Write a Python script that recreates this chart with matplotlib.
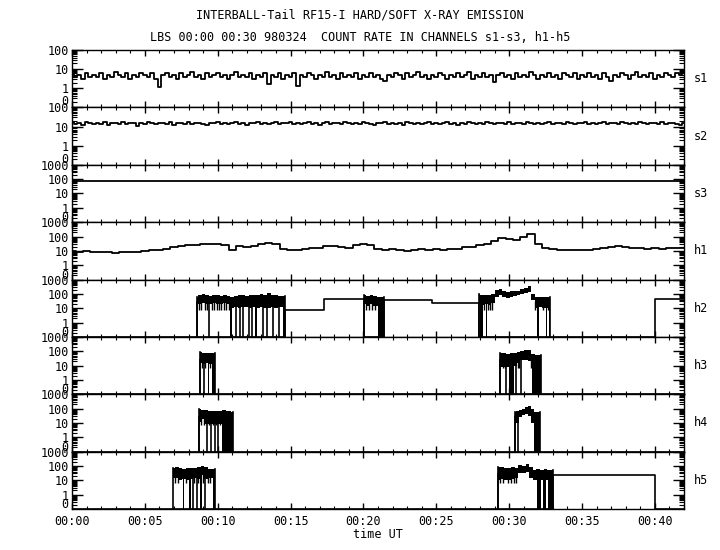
import numpy as np
import matplotlib
matplotlib.use("Agg")
import matplotlib.pyplot as plt
from matplotlib.ticker import MultipleLocator, FixedLocator, FuncFormatter, LogLocator, NullFormatter
from matplotlib.transforms import blended_transform_factory

plt.rcParams["font.family"] = ["DejaVu Sans Mono"]

# s1, s2 sampled every 15 s, s3 and h1 every 30 s, 00:00 .. 00:42 (counts)
s1 = [7, 4, 5, 3, 6, 4, 5, 4, 6, 3, 5, 4, 7, 5, 4, 6, 3, 5, 4, 6,
      5, 4, 6, 3, 1.2, 5, 6, 4, 5, 3, 6, 4, 5, 7, 4, 5, 3, 6, 4, 5,
      6, 4, 5, 3, 5, 7, 4, 5, 4, 6, 3, 5, 4, 6, 1.6, 5, 4, 6, 3, 5,
      4, 6, 1.4, 5, 4, 6, 5, 3, 5, 4, 7, 4, 5, 3, 6, 4, 5, 4, 6, 3,
      5, 4, 6, 4, 5, 3, 2.5, 5, 4, 6, 5, 3, 6, 4, 5, 7, 4, 5, 3, 5,
      4, 6, 5, 3, 5, 4, 6, 4, 5, 7, 3, 5, 4, 6, 4, 5, 2.2, 5, 6, 4,
      5, 3, 6, 4, 5, 4, 7, 5, 3, 5, 4, 6, 4, 5, 3, 6, 5, 4, 6, 3,
      5, 4, 6, 4, 5, 3, 6, 4, 2.3, 5, 4, 6, 5, 3, 5, 7, 4, 5, 4, 6,
      3, 5, 4, 6, 5, 4, 6, 5, 6]
s2 = [18, 14, 16, 12, 17, 15, 13, 16, 14, 17, 12, 15, 16, 14, 18, 13, 15, 16, 11, 15,
      14, 17, 15, 13, 16, 15, 14, 17, 12, 16, 15, 14, 18, 13, 15, 16, 14, 12, 16, 15,
      17, 14, 15, 13, 16, 17, 14, 15, 12, 16, 15, 17, 13, 16, 14, 15, 17, 13, 16, 15,
      18, 14, 16, 13, 15, 17, 14, 16, 12, 15, 17, 14, 16, 15, 13, 17, 15, 14, 16, 13,
      17, 15, 14, 12, 16, 15, 17, 13, 16, 14, 15, 12, 17, 15, 14, 16, 13, 15, 17, 14,
      16, 13, 15, 17, 14, 16, 12, 15, 14, 17, 15, 13, 16, 14, 17, 15, 13, 16, 15, 14,
      17, 13, 15, 16, 14, 18, 15, 13, 16, 14, 15, 17, 13, 16, 15, 14, 17, 15, 13, 16,
      15, 17, 14, 16, 13, 15, 18, 14, 16, 15, 13, 17, 15, 14, 16, 13, 17, 15, 14, 16,
      15, 13, 17, 14, 16, 15, 14, 12, 16]
s3 = [85, 78, 75, 72, 76, 74, 70, 75, 73, 77, 72, 74, 76, 70, 73, 75, 72, 76,
      74, 71, 75, 73, 77, 74, 72, 76, 75, 73, 74, 77, 72, 75, 74, 76, 73, 75,
      71, 74, 76, 73, 75, 77, 72, 74, 75, 73, 76, 74, 72, 75, 77, 73, 74, 76,
      72, 75, 73, 70, 74, 76, 73, 75, 72, 74, 77, 73, 75, 74, 72, 76, 74, 75,
      73, 77, 75, 74, 76, 73, 75, 77, 76, 74, 75, 73, 75]
h1 = [10, 9, 10, 9, 8, 9, 7, 8, 9, 8, 10, 11, 12, 13, 18, 21, 24, 27, 28, 31,
      30, 27, 12, 22, 20, 22, 28, 36, 30, 14, 12, 11, 13, 15, 17, 22, 21, 18,
      16, 26, 28, 27, 14, 12, 13, 12, 10, 12, 13, 12, 13, 12, 13, 14, 18, 20,
      26, 30, 50, 85, 70, 60, 100, 140, 30, 16, 13, 12, 11, 12, 11, 12, 13, 16,
      19, 22, 18, 17, 15, 14, 15, 14, 15, 16, 17]

# hard channels: baseline step line outside the bursts (0 = no counts)
h2_base_t = [0, 8.55, 14.6, 17.3, 20.05, 21.4, 24.7, 27.9, 32.8, 40.0, 42]
h2_base_v = [0, 0, 8, 42, 0, 36, 24, 0, 0, 42, 42]
h3_base_t = [0, 42]
h3_base_v = [0, 0]
h4_base_t = [0, 42]
h4_base_v = [0, 0]
h5_base_t = [0, 33.0, 40.0, 42]
h5_base_v = [0, 23.5, 0, 0]

# burst envelopes: times, upper, lower
h2_b1_t = [8.55, 8.8, 9.0, 9.25, 9.5, 9.75, 10.0, 10.25, 10.5, 10.75, 11.0, 11.25,
           11.5, 11.75, 12.0, 12.25, 12.5, 12.75, 13.0, 13.25, 13.5, 13.75, 14.0, 14.25, 14.6]
h2_b1_hi = [60, 80, 95, 85, 75, 90, 80, 70, 85, 75, 60, 70, 85, 80, 75, 90, 80, 85,
            95, 80, 120, 90, 85, 75, 70]
h2_b1_lo = [25, 20, 25, 20, 20, 25, 20, 20, 25, 20, 10, 12, 10, 12, 12, 10, 12, 10,
            12, 10, 10, 12, 10, 12, 12]
h2_b2_t = [20.05, 20.3, 20.55, 20.8, 21.05, 21.4]
h2_b2_hi = [85, 75, 80, 70, 65, 65]
h2_b2_lo = [20, 15, 20, 15, 15, 15]
h2_b3_t = [27.9, 28.15, 28.4, 28.65, 28.9, 29.15, 29.4, 29.65, 29.9, 30.15, 30.4,
           30.65, 30.9, 31.15, 31.4, 31.65, 31.9, 32.15, 32.4, 32.8]
h2_b3_hi = [100, 85, 90, 80, 105, 180, 210, 170, 140, 150, 150, 170, 220, 260, 340,
            105, 62, 65, 60, 60]
h2_b3_lo = [20, 18, 20, 18, 25, 62, 80, 65, 52, 60, 72, 80, 105, 120, 140, 36, 10,
            12, 10, 10]
h3_b1_t = [8.78, 9.0, 9.25, 9.5, 9.8]
h3_b1_hi = [85, 75, 80, 70, 70]
h3_b1_lo = [15, 12, 15, 12, 12]
h3_b2_t = [29.4, 29.65, 29.9, 30.15, 30.4, 30.65, 30.9, 31.15, 31.4, 31.65, 31.9, 32.2]
h3_b2_hi = [70, 80, 65, 75, 70, 90, 110, 115, 130, 60, 55, 55]
h3_b2_lo = [8, 8, 8, 8, 10, 15, 25, 25, 20, 8, 8, 8]
h4_b1_t = [8.7, 8.95, 9.2, 9.45, 9.7, 9.95, 10.2, 10.45, 10.7, 11.07]
h4_b1_hi = [90, 85, 75, 70, 65, 70, 65, 75, 70, 60]
h4_b1_lo = [12, 20, 8, 8, 8, 8, 8, 8, 8, 8]
h4_b2_t = [30.4, 30.6, 30.8, 31.0, 31.2, 31.4, 31.6, 31.8, 32.1]
h4_b2_hi = [60, 70, 80, 100, 120, 160, 90, 60, 55]
h4_b2_lo = [8, 10, 25, 35, 40, 30, 10, 8, 8]
h5_b1_t = [6.95, 7.2, 7.45, 7.7, 7.95, 8.2, 8.45, 8.7, 8.95, 9.2, 9.45, 9.8]
h5_b1_hi = [75, 90, 70, 65, 70, 75, 70, 90, 95, 80, 65, 60]
h5_b1_lo = [15, 15, 10, 12, 10, 12, 15, 12, 25, 12, 15, 15]
h5_b2_t = [29.25, 29.5, 29.75, 30.0, 30.25, 30.5, 30.75, 31.0, 31.25, 31.5, 31.75,
           32.0, 32.25, 32.5, 32.75, 33.0]
h5_b2_hi = [80, 85, 75, 70, 80, 75, 110, 100, 140, 90, 55, 60, 55, 60, 55, 55]
h5_b2_lo = [10, 12, 10, 10, 12, 15, 35, 30, 40, 15, 10, 10, 10, 10, 10, 10]

# drop-outs to zero (start, end) in minutes
h2_drops = [(8.55, 8.55), (9.4, 9.4), (10.85, 11.0), (11.25, 11.25), (11.5, 11.5),
            (11.75, 11.75), (12.15, 12.15), (12.35, 12.35), (12.55, 12.7), (13.1, 13.1),
            (13.35, 13.35), (13.8, 13.8), (14.2, 14.2), (14.45, 14.6), (21.0, 21.4),
            (28.0, 28.2), (28.4, 28.45), (31.9, 32.05), (32.5, 32.6), (32.75, 32.8)]
h3_drops = [(8.78, 8.78), (9.05, 9.05), (9.3, 9.4), (9.6, 9.8), (29.4, 29.4),
            (29.8, 29.8), (30.0, 30.3), (30.5, 30.5), (30.8, 30.8), (31.6, 32.2)]
h4_drops = [(8.7, 8.7), (9.28, 9.28), (9.55, 9.55), (9.8, 9.8), (10.03, 10.03),
            (10.3, 11.07), (30.4, 30.4), (30.6, 30.6), (31.7, 32.1)]
h5_drops = [(7.6, 7.7), (8.0, 8.15), (8.3, 8.3), (8.55, 8.55), (8.8, 8.9), (9.1, 9.1),
            (9.65, 9.8), (29.25, 29.25), (31.9, 32.2), (32.35, 32.55), (32.65, 33.0)]
# short dips down to ~7 counts
h2_dips = [8.7, 8.85, 9.1, 9.25, 9.6, 9.75, 9.95, 10.1, 10.25, 10.4, 10.6, 10.75,
           20.2, 20.4, 20.6, 20.8, 28.1, 28.3, 28.55, 28.7, 28.85, 31.75, 32.3, 32.7]
h3_dips = [8.9, 9.15, 9.5, 29.55, 29.7, 30.6, 30.7, 31.5]
h4_dips = [8.85, 9.05, 9.4, 9.65, 9.9, 10.15]
h5_dips = [7.05, 7.3, 7.8, 8.4, 8.65, 9.0, 9.3, 9.5, 29.4, 29.6, 29.9, 30.1, 30.35, 30.5]

names = ["s1", "s2", "s3", "h1", "h2", "h3", "h4", "h5"]
tops = [100, 100, 1000, 1000, 1000, 1000, 1000, 1000]
ZERO = 0.1

fig, axes = plt.subplots(8, 1, sharex=True, figsize=(7.2, 5.5), dpi=100)
fig.subplots_adjust(left=0.1, right=0.95, top=0.909, bottom=0.0745, hspace=0)

def z(v):
    return np.clip(np.asarray(v, dtype=float), ZERO, None)

for ax, series in zip(axes[:4], [s1, s2, s3, h1]):
    t = np.linspace(0, 42, len(series))
    ax.plot(t, z(series), color="black", lw=1.3, drawstyle="steps-mid")

hard = [
    (h2_base_t, h2_base_v, [(h2_b1_t, h2_b1_hi, h2_b1_lo), (h2_b2_t, h2_b2_hi, h2_b2_lo),
                            (h2_b3_t, h2_b3_hi, h2_b3_lo)], h2_drops, h2_dips),
    (h3_base_t, h3_base_v, [(h3_b1_t, h3_b1_hi, h3_b1_lo), (h3_b2_t, h3_b2_hi, h3_b2_lo)],
     h3_drops, h3_dips),
    (h4_base_t, h4_base_v, [(h4_b1_t, h4_b1_hi, h4_b1_lo), (h4_b2_t, h4_b2_hi, h4_b2_lo)],
     h4_drops, h4_dips),
    (h5_base_t, h5_base_v, [(h5_b1_t, h5_b1_hi, h5_b1_lo), (h5_b2_t, h5_b2_hi, h5_b2_lo)],
     h5_drops, h5_dips),
]
for ax, (bt, bv, bursts, drops, dips) in zip(axes[4:], hard):
    ax.plot(bt, z(bv), color="black", lw=1.2, drawstyle="steps-post")
    for t, hi, lo in bursts:
        ax.fill_between(t, z(lo), z(hi), step="mid", color="black", lw=0)
        ax.plot([t[0], t[0]], [ZERO, hi[0]], color="black", lw=1.2)
        ax.plot([t[-1], t[-1]], [ZERO, hi[-1]], color="black", lw=1.2)
    for a, b in drops:
        if b - a < 0.02:
            ax.vlines(a, ZERO, 30, color="black", lw=1.2)
        else:
            ax.fill_between([a, b], [ZERO, ZERO], [30, 30], color="black", lw=0)
    ax.vlines(dips, 7, 30, color="black", lw=1)

for ax, name, top in zip(axes, names, tops):
    ax.set_yscale("log")
    ax.set_ylim(ZERO, top)
    ax.set_xlim(0, 42)
    yt = [1, 10, 100] + ([1000] if top == 1000 else [])
    ax.yaxis.set_major_locator(FixedLocator(yt))
    ax.set_yticklabels([str(v) for v in yt])
    ax.yaxis.set_minor_locator(LogLocator(base=10, subs=np.arange(2, 10), numticks=20))
    ax.yaxis.set_minor_formatter(NullFormatter())
    ax.xaxis.set_major_locator(MultipleLocator(5))
    ax.xaxis.set_minor_locator(MultipleLocator(1))
    ax.tick_params(which="both", direction="in", top=True, right=True, labelsize=8.5)
    ax.tick_params(axis="y", which="major", length=8, width=1, pad=2)
    ax.tick_params(axis="y", which="minor", length=3.5, width=0.8)
    ax.tick_params(axis="x", which="major", length=4, width=1, pad=4)
    ax.tick_params(axis="x", which="minor", length=2.5, width=0.8)
    for sp in ax.spines.values():
        sp.set_linewidth(1)
    tr = blended_transform_factory(ax.transAxes, ax.transData)
    ax.text(-0.006, 0.2, "0", transform=tr, ha="right", va="center", fontsize=8.5)
    ax.text(1.016, 0.5, name, transform=ax.transAxes, ha="left", va="center", fontsize=8.5)

axes[-1].xaxis.set_major_formatter(FuncFormatter(lambda v, p: "00:%02d" % int(round(v))))
axes[-1].set_xlabel("time UT", fontsize=8.5, labelpad=0)

fig.text(0.5, 0.972, "INTERBALL-Tail RF15-I HARD/SOFT X-RAY EMISSION",
         ha="center", va="center", fontsize=8.5)
fig.text(0.5, 0.932, "LBS 00:00 00:30 980324  COUNT RATE IN CHANNELS s1-s3, h1-h5",
         ha="center", va="center", fontsize=8.5)

fig.savefig("out.png", dpi=100)
